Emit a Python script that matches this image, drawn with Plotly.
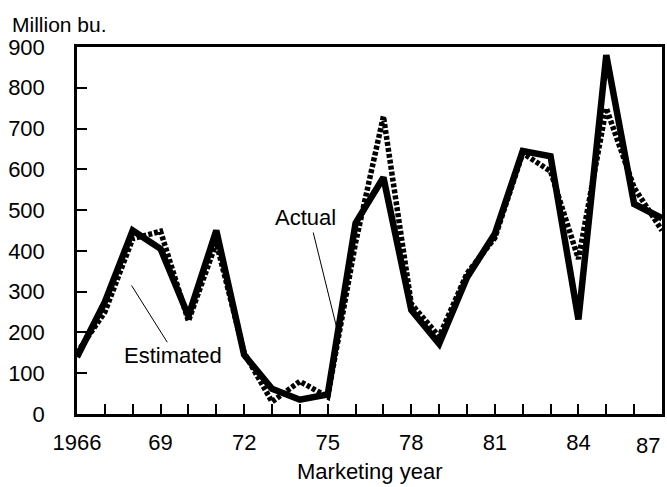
import plotly.graph_objects as go

years = list(range(1966, 1988))
actual = [140, 275, 450, 405, 240, 450, 145, 62, 35, 48, 468, 580, 255, 172, 335, 442, 645, 632, 232, 880, 515, 480]
estimated = [150, 250, 430, 448, 228, 420, 150, 30, 80, 42, 420, 730, 270, 190, 345, 432, 640, 595, 380, 750, 555, 450]
tick_years = years
tick_labels = ["1966" if y == 1966 else (str(y)[2:] if (y - 1966) % 3 == 0 and y != 1987 else "") for y in years]
last_label = "87"
y_ticks = list(range(0, 1000, 100))

FAM = "Liberation Sans, Arial, sans-serif"

fig = go.Figure()
fig.add_trace(go.Scatter(x=years, y=estimated, mode="lines",
                         line=dict(color="black", width=5.5, dash="4px,2px"), name="Estimated"))
fig.add_trace(go.Scatter(x=years, y=actual, mode="lines",
                         line=dict(color="black", width=6.5), name="Actual"))

fig.update_layout(
    width=667, height=487,
    margin=dict(l=77, r=2, t=47, b=73),
    paper_bgcolor="white", plot_bgcolor="white",
    showlegend=False,
    font=dict(family=FAM, color="black"),
    xaxis=dict(range=[1966, 1987], tickvals=tick_years, ticktext=tick_labels,
               ticks="inside", ticklen=10, tickwidth=1.5, tickcolor="black",
               showline=True, linecolor="black", linewidth=2.5, mirror=True,
               showgrid=False, zeroline=False, ticklabelstandoff=7,
               tickfont=dict(size=22, family=FAM, color="black")),
    yaxis=dict(range=[0, 900], tickvals=y_ticks,
               ticks="inside", ticklen=10, tickwidth=1.5, tickcolor="black",
               showline=True, linecolor="black", linewidth=2.5, mirror=True,
               showgrid=False, zeroline=False, ticklabelstandoff=25,
               tickfont=dict(size=22, family=FAM, color="black")),
    annotations=[
        dict(text="Million bu.", xref="paper", yref="paper", x=-0.114, y=1.062,
             xanchor="left", yanchor="middle", showarrow=False, font=dict(size=21)),
        dict(text="Marketing year", xref="paper", yref="paper", x=0.5, y=-0.158,
             xanchor="center", yanchor="middle", showarrow=False, font=dict(size=22)),
        dict(text=last_label, xref="x", yref="paper", x=1987, y=-0.085,
             xanchor="right", yanchor="middle", showarrow=False, font=dict(size=22)),
        dict(text="Actual", x=1974.2, y=482, xref="x", yref="y", showarrow=False,
             font=dict(size=22)),
        dict(text="Estimated", x=1969.46, y=144, xref="x", yref="y", showarrow=False,
             font=dict(size=22)),
    ],
    shapes=[
        dict(type="line", x0=1974.48, y0=445, x1=1975.45, y1=176, xref="x", yref="y",
             line=dict(color="black", width=1)),
        dict(type="line", x0=1967.96, y0=315, x1=1969.24, y1=176, xref="x", yref="y",
             line=dict(color="black", width=1)),
    ],
)

fig.write_html("out.html")
